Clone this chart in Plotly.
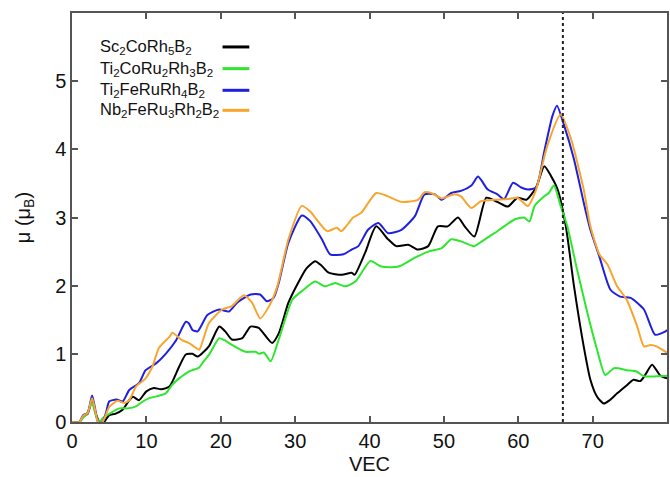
import plotly.graph_objects as go

# Magnetic moment vs. valence electron count for four boride compounds
sc_x = [0, 1.0, 1.5, 2.1, 2.7, 3.2, 3.7, 4.3, 5.0, 5.8, 6.8, 7.7, 8.2, 9.0, 10.0, 11.0, 12.0,
        13.1, 14.4, 15.3, 16.2, 16.9, 18.4, 19.8, 20.6, 21.5, 22.9, 24.0, 25.1, 26.9, 27.8, 29.1,
        30.5, 31.5, 32.7, 33.5, 34.5, 36.3, 37.6, 38.0, 39.4, 40.9, 42.5, 43.6, 45.2, 46.5, 47.9,
        49.2, 50.5, 51.9, 52.8, 54.1, 55.7, 56.8, 57.7, 58.6, 59.9, 61.1, 62.4, 63.5, 64.4, 65.3,
        66.4, 67.5, 68.8, 69.7, 70.6, 71.5, 72.3, 73.3, 74.6, 75.5, 76.4, 77.0, 78.0, 79.1, 80]
sc_y = [0, 0, 0.08, 0.12, 0.32, 0.12, 0.0, 0.0, 0.10, 0.12, 0.18, 0.32, 0.37, 0.32, 0.45, 0.50, 0.48,
        0.52, 0.81, 0.99, 1.00, 0.96, 1.11, 1.40, 1.33, 1.21, 1.23, 1.40, 1.38, 1.16, 1.30, 1.75,
        2.06, 2.25, 2.36, 2.30, 2.19, 2.16, 2.19, 2.16, 2.48, 2.87, 2.68, 2.58, 2.60, 2.53, 2.58,
        2.87, 2.87, 3.00, 2.87, 2.72, 3.29, 3.25, 3.20, 3.16, 3.29, 3.26, 3.44, 3.75, 3.61, 3.41,
        2.87, 1.99, 1.11, 0.62, 0.37, 0.27, 0.32, 0.42, 0.54, 0.62, 0.60, 0.68, 0.84, 0.68, 0.64]

ti_co_x = [0, 1.0, 1.5, 2.0, 2.7, 3.2, 3.7, 4.1, 5.0, 6.4, 7.5, 8.6, 9.5, 10.4, 11.5, 12.6, 13.5,
           14.4, 15.7, 17.1, 17.5, 18.5, 19.8, 20.5, 21.5, 23.3, 24.7, 25.1, 25.8, 26.7, 27.8,
           29.6, 30.9, 32.7, 34.0, 35.4, 36.7, 38.1, 40.1, 41.6, 43.9, 46.1, 47.9, 49.7, 51.0,
           52.3, 54.1, 55.1, 56.8, 58.1, 59.5, 60.8, 61.5, 62.2, 63.5, 64.1, 64.8, 65.7, 66.6,
           67.9, 69.3, 70.6, 71.7, 72.9, 74.6, 75.9, 76.9, 78.6, 80]
ti_co_y = [0, 0, 0.06, 0.12, 0.28, 0.10, 0.0, 0.05, 0.12, 0.20, 0.20, 0.23, 0.30, 0.35, 0.38, 0.42, 0.55,
           0.64, 0.74, 0.80, 0.86, 1.00, 1.23, 1.20, 1.13, 1.03, 1.03, 1.00, 1.02, 0.89, 1.21,
           1.79, 1.92, 2.06, 1.99, 2.04, 1.99, 2.06, 2.36, 2.28, 2.28, 2.41, 2.50, 2.55, 2.68,
           2.65, 2.58, 2.65, 2.77, 2.87, 2.97, 3.00, 2.94, 3.17, 3.31, 3.36, 3.47, 3.17, 2.87,
           2.24, 1.60, 1.06, 0.69, 0.79, 0.76, 0.74, 0.67, 0.67, 0.68]

ti_fe_x = [0, 1.0, 1.5, 2.1, 2.7, 3.1, 3.5, 4.1, 4.6, 5.0, 6.0, 6.8, 7.7, 9.0, 9.9, 11.3, 12.6,
           14.0, 15.3, 15.7, 16.2, 16.9, 18.2, 19.8, 21.1, 22.2, 24.0, 25.3, 26.2, 27.1, 27.8,
           29.1, 30.9, 32.0, 33.6, 34.7, 36.5, 37.6, 38.5, 39.8, 41.2, 42.5, 44.3, 46.1, 47.4,
           48.8, 49.7, 51.0, 52.3, 53.7, 54.6, 55.9, 57.2, 58.1, 59.3, 60.4, 61.3, 62.4, 63.5,
           64.6, 65.2, 66.2, 67.5, 68.8, 69.7, 70.9, 72.4, 73.7, 75.1, 76.9, 78.4, 79.8, 80]
ti_fe_y = [0, 0, 0.10, 0.13, 0.39, 0.20, 0.0, 0.0, 0.15, 0.30, 0.33, 0.30, 0.47, 0.57, 0.76, 0.86, 1.00,
           1.20, 1.47, 1.45, 1.35, 1.33, 1.57, 1.65, 1.62, 1.75, 1.87, 1.87, 1.77, 1.82, 2.04,
           2.63, 3.03, 2.95, 2.68, 2.46, 2.46, 2.53, 2.58, 2.82, 2.92, 2.77, 2.82, 3.02, 3.34,
           3.34, 3.26, 3.36, 3.39, 3.47, 3.60, 3.41, 3.34, 3.27, 3.51, 3.44, 3.41, 3.44, 3.97,
           4.49, 4.64, 4.34, 3.85, 3.22, 2.82, 2.43, 1.94, 1.84, 1.82, 1.65, 1.28, 1.33, 1.35]

nb_x = [0, 1.0, 1.5, 2.1, 2.7, 3.1, 3.5, 4.1, 4.6, 5.0, 6.1, 7.0, 7.7, 8.6, 9.9, 10.8, 11.7,
        13.1, 13.5, 14.8, 15.7, 16.5, 17.1, 18.4, 20.2, 21.5, 23.1, 24.2, 25.3, 26.5, 27.6,
        29.1, 30.9, 32.0, 34.3, 35.6, 36.2, 36.7, 37.8, 38.9, 40.9, 42.5, 44.3, 46.5, 47.4,
        48.3, 49.7, 51.4, 52.3, 53.7, 55.0, 56.8, 58.6, 59.9, 61.3, 62.4, 63.9, 65.7, 67.1,
        68.8, 69.7, 70.9, 72.0, 73.3, 74.6, 76.0, 76.9, 77.8, 78.6, 79.8, 80]
nb_y = [0, 0, 0.09, 0.13, 0.35, 0.18, 0.0, 0.0, 0.12, 0.22, 0.31, 0.28, 0.32, 0.52, 0.64, 0.81, 1.09,
        1.25, 1.31, 1.20, 1.16, 1.10, 1.06, 1.45, 1.65, 1.70, 1.86, 1.75, 1.52, 1.70, 1.99,
        2.68, 3.17, 3.09, 2.80, 2.85, 2.80, 2.85, 3.00, 3.07, 3.36, 3.31, 3.23, 3.26, 3.37,
        3.36, 3.28, 3.34, 3.31, 3.14, 3.24, 3.26, 3.27, 3.29, 3.17, 3.41, 4.05, 4.51, 4.15,
        3.41, 2.87, 2.46, 2.31, 1.99, 1.79, 1.40, 1.11, 1.13, 1.11, 1.03, 1.02]

names = ["Sc<sub>2</sub>CoRh<sub>5</sub>B<sub>2</sub>",
         "Ti<sub>2</sub>CoRu<sub>2</sub>Rh<sub>3</sub>B<sub>2</sub>",
         "Ti<sub>2</sub>FeRuRh<sub>4</sub>B<sub>2</sub>",
         "Nb<sub>2</sub>FeRu<sub>3</sub>Rh<sub>2</sub>B<sub>2</sub>"]
colors = ["#000000", "#2ee62e", "#1f1fe0", "#f7a52f"]
series = [(sc_x, sc_y), (ti_co_x, ti_co_y), (ti_fe_x, ti_fe_y), (nb_x, nb_y)]

x_ticks = [0, 10, 20, 30, 40, 50, 60, 70]
y_ticks = [0, 1, 2, 3, 4, 5]
vec_marker = 66

fig = go.Figure()
# draw order: black, green, blue, orange on top where they overlap
for (xs, ys), name, color in zip(series, names, colors):
    fig.add_trace(go.Scatter(x=xs, y=ys, mode="lines", name=name,
                             line=dict(color=color, width=2, shape="spline", smoothing=0.6)))

fig.add_shape(type="line", x0=vec_marker, x1=vec_marker, y0=0, y1=1,
              xref="x", yref="y domain",
              line=dict(color="#222222", width=2, dash="dot"))

# legend drawn as text with the line sample on the right
legend_rows = [0.917, 0.864, 0.811, 0.762]
for name, color, yy in zip(names, colors, legend_rows):
    fig.add_annotation(x=0.043, y=yy, xref="paper", yref="paper", text=name,
                       showarrow=False, xanchor="left", yanchor="middle",
                       font=dict(size=16.5, color="#111111"))
    fig.add_shape(type="line", x0=0.253, x1=0.298, y0=yy, y1=yy,
                  xref="paper", yref="paper", line=dict(color=color, width=3))

axis_common = dict(showline=True, linecolor="#555555", linewidth=1.5, mirror="ticks",
                   ticks="inside", ticklen=6, tickwidth=1.5, tickcolor="#555555",
                   showgrid=False, zeroline=False,
                   tickfont=dict(size=20, color="#111111", family="Liberation Sans"))

fig.update_layout(
    width=670, height=477,
    margin=dict(l=72, r=1, t=13, b=55),
    paper_bgcolor="white", plot_bgcolor="white",
    showlegend=False,
    font=dict(family="Liberation Sans", color="#111111"),
    xaxis=dict(range=[0, 80], tickvals=x_ticks,
               title=dict(text="VEC", font=dict(size=20), standoff=6), **axis_common),
    yaxis=dict(range=[0, 6], tickvals=y_ticks,
               title=dict(text="\u03bc (\u03bc<sub>B</sub>)", font=dict(size=20), standoff=19),
               **axis_common),
)

fig.write_html("out.html")
